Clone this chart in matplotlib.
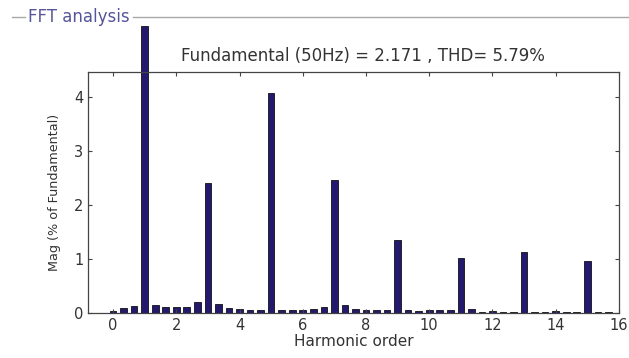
import matplotlib
matplotlib.use('Agg')
import matplotlib.pyplot as plt
import numpy as np

# harmonic order axis, step 1/3 from 0 to 15.67
harmonic_order = np.arange(48) / 3.0
# magnitudes in % of fundamental (fundamental itself = 100)
mag = [0.03, 0.09, 0.13, 100.0, 0.15, 0.11, 0.11, 0.11, 0.20, 2.41,
       0.17, 0.09, 0.07, 0.05, 0.05, 4.07, 0.06, 0.05, 0.06, 0.07,
       0.11, 2.46, 0.14, 0.07, 0.06, 0.05, 0.05, 1.35, 0.05, 0.04,
       0.05, 0.06, 0.06, 1.02, 0.07, 0.02, 0.03, 0.02, 0.02, 1.13,
       0.02, 0.02, 0.03, 0.02, 0.02, 0.96, 0.02, 0.02]
x_ticks = [0, 2, 4, 6, 8, 10, 12, 14, 16]
y_ticks = [0, 1, 2, 3, 4]
title_text = 'Fundamental (50Hz) = 2.171 , THD= 5.79%'
panel_title = 'FFT analysis'

plt.rcParams['font.family'] = ['DejaVu Sans']

fig = plt.figure(figsize=(6.29, 3.58), dpi=100)
ax = fig.add_axes([0.140, 0.1257, 0.844, 0.673])

# the fundamental runs off the top of the axes, as in the original
shown = np.minimum(mag, 5.31)
bars = ax.bar(harmonic_order, shown, width=0.21, color='#23196e',
              edgecolor='#111111', linewidth=0.6)
bars[3].set_clip_on(False)

ax.set_xlim(-0.79, 16)
ax.set_ylim(0, 4.46)
ax.set_xticks(x_ticks)
ax.set_yticks(y_ticks)
ax.tick_params(direction='in', length=3, width=0.8, color='#444444',
               labelcolor='#333333', labelsize=10.5, top=True, right=True)
for s in ax.spines.values():
    s.set_color('#444444')
    s.set_linewidth(0.9)

ax.set_title(title_text, fontsize=12, color='#333333', pad=8, x=0.517)
ax.set_xlabel('Harmonic order', fontsize=11, color='#333333', labelpad=1)
ax.set_ylabel('Mag (% of Fundamental)', fontsize=9.2, color='#333333',
              labelpad=9)

# panel frame with its title
fig.add_artist(plt.Line2D([12 / 629, 25 / 629], [1 - 17 / 358] * 2,
                          color='#a8a8a8', linewidth=1))
fig.add_artist(plt.Line2D([133 / 629, 1.0], [1 - 17 / 358] * 2,
                          color='#a8a8a8', linewidth=1))
fig.text(28 / 629, 1 - 17 / 358, panel_title, fontsize=12,
         color='#55559a', va='center', ha='left')

fig.savefig('out.png', dpi=100)
